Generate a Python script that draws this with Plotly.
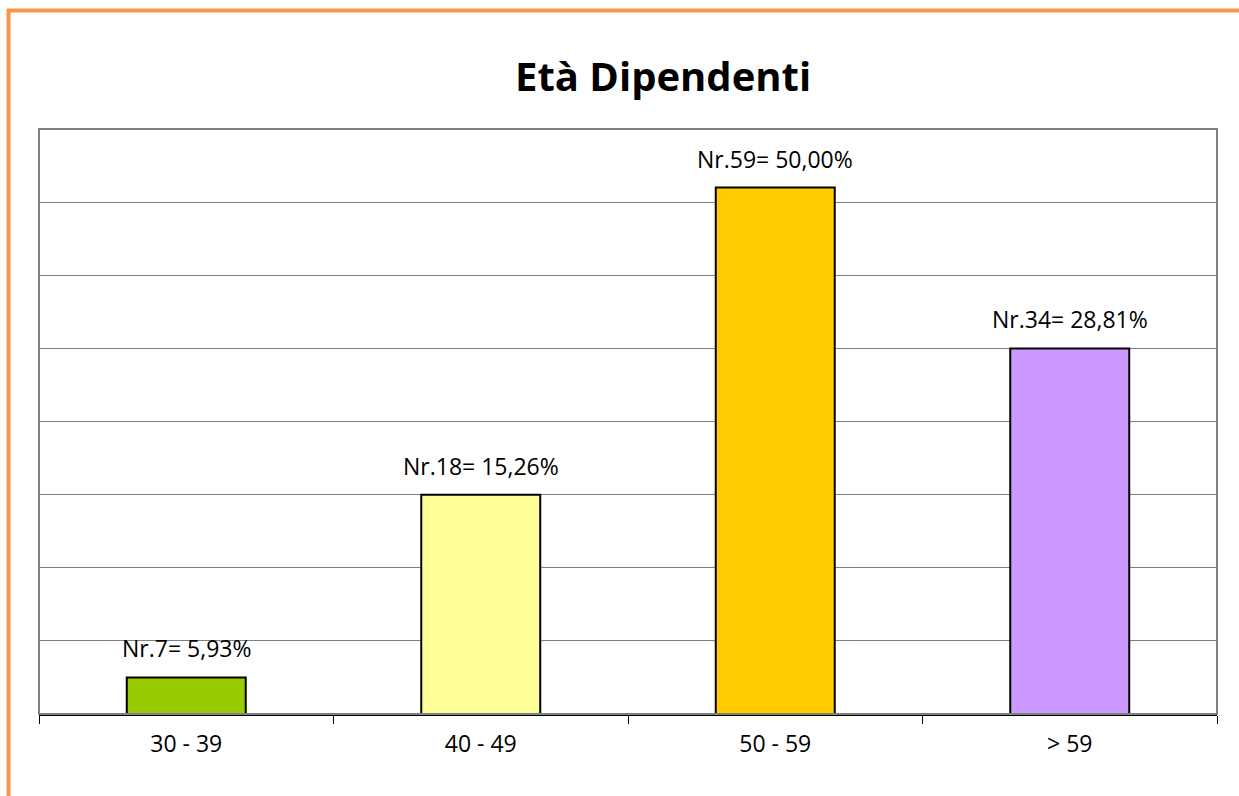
import plotly.graph_objects as go

categories = ["30 - 39", "40 - 49", "50 - 59", "> 59"]
bar_heights = [5, 30, 72, 50]
bar_labels = ["Nr.7= 5,93%", "Nr.18= 15,26%", "Nr.59= 50,00%", "Nr.34= 28,81%"]
bar_colors = ["#99CC00", "#FFFF99", "#FFCC00", "#CC99FF"]

W, H = 1239, 796
L, R, T, B = 39, 1217, 129, 714

def px(x):
    return (x - L) / (R - L)

def py(y):
    return (B - y) / (B - T)

FONT = "'Open Sans', 'Noto Sans', sans-serif"

fig = go.Figure()
fig.add_trace(go.Bar(
    x=categories, y=bar_heights,
    marker=dict(color=bar_colors, line=dict(color="black", width=2)),
    hoverinfo="skip",
))

for c, v, t in zip(categories, bar_heights, bar_labels):
    fig.add_annotation(x=c, y=v, text=t, showarrow=False, yanchor="bottom",
                       yshift=11, font=dict(size=23, color="black", family=FONT))

shapes = [
    dict(type="rect", xref="paper", yref="paper", x0=0, x1=1, y0=0, y1=1,
         line=dict(color="#808080", width=2), layer="above"),
    dict(type="line", xref="paper", yref="paper", x0=px(7), x1=px(1239), y0=py(10.5), y1=py(10.5),
         line=dict(color="#F79646", width=4)),
    dict(type="line", xref="paper", yref="paper", x0=px(8.5), x1=px(8.5), y0=py(9), y1=py(796),
         line=dict(color="#F79646", width=4)),
]

fig.update_layout(
    width=W, height=H,
    margin=dict(l=L, r=W - R, t=T, b=H - B, autoexpand=False),
    paper_bgcolor="white", plot_bgcolor="white",
    showlegend=False,
    bargap=0.596,
    shapes=shapes,
    font=dict(family=FONT, size=23, color="black"),
    annotations=list(fig.layout.annotations) + [
        dict(text="<b>Età Dipendenti</b>", xref="paper", yref="paper",
             x=px(663), y=py(75), xanchor="center", yanchor="middle",
             showarrow=False, font=dict(size=40, color="black", family=FONT)),
    ],
)

fig.update_xaxes(
    type="category", showline=True, linecolor="black", linewidth=1.5,
    ticks="outside", tickson="boundaries", ticklen=8, tickcolor="black", tickwidth=1,
    showgrid=False, tickfont=dict(size=23, family=FONT, color="black"),
    ticklabelstandoff=9, layer="above traces",
)
fig.update_yaxes(
    range=[0, 80], dtick=10, showgrid=True, gridcolor="#808080", gridwidth=1,
    showticklabels=False, zeroline=False, showline=False,
)

fig.write_html("out.html", config={"displayModeBar": False},
               post_script="document.body.style.margin='0';")
